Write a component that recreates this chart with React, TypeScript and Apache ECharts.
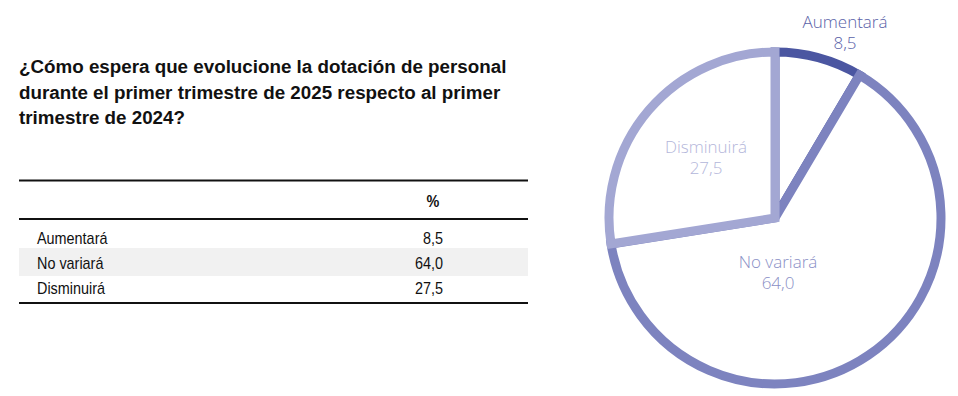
import React, { useEffect, useRef } from "react";
import * as echarts from "echarts";

const titleLines = [
  "¿Cómo espera que evolucione la dotación de personal",
  "durante el primer trimestre de 2025 respecto al primer",
  "trimestre de 2024?",
];
const categories = ["Aumentará", "No variará", "Disminuirá"];
const values = [8.5, 64.0, 27.5];
const tableHeader = "%";
const sliceColors = ["#4b56a1", "#7d83bf", "#a3a7d3"];
const labelColors = ["#5a62a8", "#8a90c6", "#b3b6da"];
// label block centers (layout only)
const labelCenters = [
  [845, 32],
  [778, 272],
  [706, 157],
];

const fmt = (v: number) => v.toFixed(1).replace(".", ",");

const SANS = "'Liberation Sans', Arial, sans-serif";
const NARROW_SCALE = 0.9;

export default function App() {
  const ref = useRef<HTMLDivElement>(null);
  useEffect(() => {
    if (!ref.current) return;
    const chart = echarts.init(ref.current, null, { renderer: "svg" });
    const rowYs = [238, 263, 288];
    const graphics: any[] = [
      {
        type: "text",
        x: 19,
        y: 54,
        style: {
          text: titleLines.join("\n"),
          font: `bold 18.8px ${SANS}`,
          lineHeight: 25.5,
          fill: "#111",
        },
      },
      { type: "rect", shape: { x: 19, y: 248, width: 509, height: 28 }, style: { fill: "#f1f1f1" } },
      { type: "line", shape: { x1: 19, y1: 180.5, x2: 528, y2: 180.5 }, style: { stroke: "#111", lineWidth: 2 } },
      { type: "line", shape: { x1: 19, y1: 219, x2: 528, y2: 219 }, style: { stroke: "#111", lineWidth: 2 } },
      { type: "line", shape: { x1: 19, y1: 303, x2: 528, y2: 303 }, style: { stroke: "#111", lineWidth: 2 } },
      {
        type: "text",
        x: 433,
        y: 201,
        scaleX: NARROW_SCALE,
        style: {
          text: tableHeader,
          font: `bold 16px ${SANS}`,
          fill: "#111",
          align: "center",
          verticalAlign: "middle",
        },
      },
    ];
    categories.forEach((c, i) => {
      graphics.push({
        type: "text",
        x: 37,
        y: rowYs[i],
        scaleX: NARROW_SCALE,
        style: { text: c, font: `16px ${SANS}`, fill: "#111", verticalAlign: "middle" },
      });
      graphics.push({
        type: "text",
        x: 443,
        y: rowYs[i],
        scaleX: NARROW_SCALE,
        style: {
          text: fmt(values[i]),
          font: `16px ${SANS}`,
          fill: "#111",
          align: "right",
          verticalAlign: "middle",
        },
      });
    });

    chart.setOption({
      animation: false,
      graphic: graphics,
      series: [
        {
          type: "pie",
          center: [775, 218],
          radius: 166,
          startAngle: 90,
          clockwise: true,
          silent: true,
          emphasis: { disabled: true },
          labelLine: { show: false },
          label: {
            show: true,
            position: "inside",
            overflow: "none",
            formatter: (p: any) => `${p.name}\n${fmt(p.value)}`,
            fontFamily: "'Open Sans', 'Liberation Sans', sans-serif",
            fontWeight: 300,
            fontSize: 17,
            lineHeight: 21,
            align: "center",
          },
          labelLayout: (p: any) => ({
            x: labelCenters[p.dataIndex][0],
            y: labelCenters[p.dataIndex][1],
            align: "center",
            verticalAlign: "middle",
          }),
          data: categories.map((c, i) => ({
            name: c,
            value: values[i],
            itemStyle: {
              color: "#ffffff",
              borderColor: sliceColors[i],
              borderWidth: 9,
              borderJoin: "miter",
              borderMiterLimit: 20,
            },
            label: { color: labelColors[i] },
          })),
        },
      ],
    });
    return () => chart.dispose();
  }, []);
  return (
    <div
      ref={ref}
      style={{ position: "fixed", left: 0, top: 0, width: 958, height: 396, background: "#fff" }}
    />
  );
}
